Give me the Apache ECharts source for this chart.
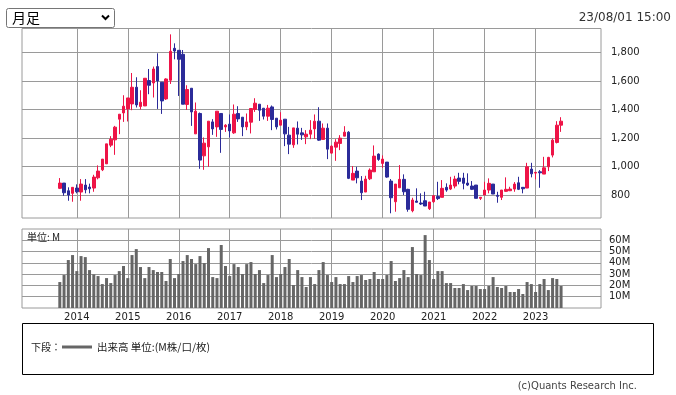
<!DOCTYPE html>
<html><head><meta charset="utf-8">
<script src="https://cdn.jsdelivr.net/npm/echarts@6/dist/echarts.min.js"></script>
<style>html,body{margin:0;padding:0;background:#fff;}#c{width:676px;height:395px;}</style>
</head><body><div id="c"></div>
<script>
// Monthly bars, Sep 2013 .. Jul 2023
const months = [
 '2013-09','2013-10','2013-11','2013-12',
 '2014-01','2014-02','2014-03','2014-04','2014-05','2014-06','2014-07','2014-08','2014-09','2014-10','2014-11','2014-12',
 '2015-01','2015-02','2015-03','2015-04','2015-05','2015-06','2015-07','2015-08','2015-09','2015-10','2015-11','2015-12',
 '2016-01','2016-02','2016-03','2016-04','2016-05','2016-06','2016-07','2016-08','2016-09','2016-10','2016-11','2016-12',
 '2017-01','2017-02','2017-03','2017-04','2017-05','2017-06','2017-07','2017-08','2017-09','2017-10','2017-11','2017-12',
 '2018-01','2018-02','2018-03','2018-04','2018-05','2018-06','2018-07','2018-08','2018-09','2018-10','2018-11','2018-12',
 '2019-01','2019-02','2019-03','2019-04','2019-05','2019-06','2019-07','2019-08','2019-09','2019-10','2019-11','2019-12',
 '2020-01','2020-02','2020-03','2020-04','2020-05','2020-06','2020-07','2020-08','2020-09','2020-10','2020-11','2020-12',
 '2021-01','2021-02','2021-03','2021-04','2021-05','2021-06','2021-07','2021-08','2021-09','2021-10','2021-11','2021-12',
 '2022-01','2022-02','2022-03','2022-04','2022-05','2022-06','2022-07','2022-08','2022-09','2022-10','2022-11','2022-12',
 '2023-01','2023-02','2023-03','2023-04','2023-05','2023-06','2023-07'
];
const openP = [
 847,884,830,812,
 849,821,870,856,849,921,977,1019,1150,1187,1332,1376,
 1404,1439,1556,1421,1425,1603,1586,1701,1591,1474,1605,1829,
 1815,1787,1435,1549,1229,1372,1075,1138,1313,1278,1372,1278,
 1297,1236,1372,1346,1278,1311,1400,1437,1409,1353,1418,1339,
 1290,1332,1220,1152,1269,1236,1208,1227,1264,1318,1190,1269,
 1094,1136,1162,1213,1241,905,968,898,821,914,963,1087,
 1022,1031,898,753,851,910,840,690,758,744,760,704,
 753,790,784,854,842,863,919,919,884,863,870,777,
 800,835,877,798,784,826,830,842,886,854,849,982,
 954,963,947,998,1080,1169,1290
];
const closeP = [
 884,816,800,854,
 823,877,837,844,926,968,1052,1159,1192,1276,1367,1423,
 1481,1556,1432,1451,1619,1570,1684,1600,1460,1614,1808,1810,
 1752,1437,1540,1383,1388,1045,1164,1318,1264,1388,1260,1290,
 1250,1367,1334,1278,1313,1407,1444,1395,1353,1409,1330,1278,
 1325,1229,1157,1271,1227,1222,1227,1255,1318,1185,1269,1122,
 1143,1171,1199,1241,917,952,921,816,912,975,1073,1050,
 1052,926,781,877,910,823,700,765,749,737,723,751,
 795,775,847,835,870,912,896,882,870,840,777,784,
 835,882,807,791,835,840,842,877,840,844,998,949,
 959,956,991,1064,1185,1290,1318
];
const lowP = [
 842,795,760,753,
 812,760,812,812,823,910,968,1019,1136,1082,1227,1313,
 1316,1395,1414,1400,1425,1507,1484,1404,1369,1467,1579,1752,
 1495,1437,1397,1285,1229,984,977,998,1222,1208,1096,1243,
 1204,1229,1313,1213,1255,1232,1383,1320,1330,1320,1255,1260,
 1290,1143,1087,1131,1155,1187,1157,1192,1194,1180,1190,1052,
 1089,1040,1115,1213,912,905,882,765,821,905,963,1040,
 991,921,672,683,851,800,683,679,749,730,723,695,
 745,765,784,823,835,847,875,840,863,835,777,765,
 800,812,807,746,765,823,828,823,835,812,849,924,
 910,851,947,968,1064,1162,1243
];
const highP = [
 919,884,854,854,
 875,912,912,880,942,1008,1052,1159,1213,1285,1367,1500,
 1481,1656,1626,1535,1619,1684,1701,1794,1591,1619,1927,1864,
 1815,1817,1570,1549,1449,1379,1204,1318,1332,1388,1372,1297,
 1365,1435,1423,1346,1372,1407,1479,1437,1409,1432,1428,1339,
 1381,1332,1278,1271,1316,1271,1255,1325,1365,1416,1302,1302,
 1148,1192,1220,1283,1248,1003,998,933,935,987,1148,1092,
 1078,1031,912,877,1010,945,844,781,847,812,823,751,
 800,893,905,882,928,935,956,956,952,898,870,784,
 893,917,877,823,835,924,858,891,928,854,1026,1026,
 961,975,1068,1068,1197,1318,1346
];
// volume, millions
const volume = [
 23.0,29.2,42.5,46.9,
 32.7,46.0,45.1,33.6,29.8,28.3,21.2,26.5,22.1,29.2,32.7,37.2,
 26.5,46.9,52.2,36.3,26.5,36.3,33.6,31.9,31.9,23.9,43.4,26.5,
 30.1,41.6,46.9,43.4,38.9,46.0,39.8,53.1,27.4,26.5,55.8,37.2,
 28.3,38.9,36.3,30.1,38.9,40.7,30.1,33.6,22.1,29.2,46.9,27.4,
 30.1,36.3,43.4,20.4,33.6,27.4,18.6,27.4,21.2,33.6,40.7,29.2,
 23.0,27.4,21.2,21.2,28.3,23.0,28.3,29.2,24.8,25.7,31.9,25.7,
 25.7,29.2,41.6,23.9,26.5,33.6,27.4,54.0,30.1,29.2,64.6,42.5,
 25.7,32.7,32.7,22.1,22.1,17.7,17.7,21.2,15.9,19.5,19.5,16.8,
 16.8,19.5,27.4,18.6,17.7,19.5,14.2,14.2,16.8,12.4,23.0,21.2,
 14.2,21.2,25.7,15.9,26.5,25.7,19.5
];
const yearLabels = ['2014','2015','2016','2017','2018','2019','2020','2021','2022','2023'];
const priceTicks = [800,1000,1200,1400,1600,1800];
const volumeTicks = [10,20,30,40,50,60];

const UP = '#ee1447', DOWN = '#2b2b99', GRID = '#9a9a9a';
const yearIdx = yearLabels.map(y => months.indexOf(y + '-01'));
const candleData = months.map((m, i) => [i, openP[i], closeP[i], lowP[i], highP[i]]);
const volData = months.map((m, i) => [i, volume[i]]);
const X_MIN = -8.9, X_MAX = 127.4;
const labelFont = {fontFamily: 'DejaVu Sans', fontSize: 10, color: '#222'};

const chart = echarts.init(document.getElementById('c'), null, {renderer: 'canvas'});
chart.setOption({
  animation: false,
  backgroundColor: '#fff',
  grid: [
    {left: 22, top: 28.5, width: 579, height: 189.5, show: true, borderColor: GRID, borderWidth: 1, backgroundColor: '#fff'},
    {left: 22, top: 229, width: 579, height: 79, show: true, borderColor: GRID, borderWidth: 1, backgroundColor: '#fff'}
  ],
  xAxis: [
    {type: 'value', gridIndex: 0, min: X_MIN, max: X_MAX,
     axisLine: {show: false}, axisTick: {show: false, customValues: yearIdx},
     axisLabel: {show: false, customValues: yearIdx},
     splitLine: {show: true, lineStyle: {color: GRID, width: 1}}},
    {type: 'value', gridIndex: 1, min: X_MIN, max: X_MAX,
     axisLine: {show: false}, axisTick: {show: false, customValues: yearIdx},
     axisLabel: Object.assign({show: true, customValues: yearIdx, margin: 4,
        formatter: v => months[Math.round(v)].slice(0, 4)}, labelFont),
     splitLine: {show: true, lineStyle: {color: GRID, width: 1}}}
  ],
  yAxis: [
    {type: 'value', gridIndex: 0, position: 'right', min: 639, max: 1968, scale: true,
     axisLine: {show: false},
     axisTick: {show: true, length: 4, customValues: priceTicks, lineStyle: {color: GRID}},
     axisLabel: Object.assign({customValues: priceTicks, margin: 10,
        formatter: v => v.toLocaleString('en-US')}, labelFont),
     splitLine: {show: true, lineStyle: {color: GRID, width: 1}}},
    {type: 'value', gridIndex: 1, position: 'right', min: 0, max: 70,
     axisLine: {show: false},
     axisTick: {show: true, length: 4, customValues: volumeTicks, lineStyle: {color: GRID}},
     axisLabel: Object.assign({customValues: volumeTicks, margin: 8,
        formatter: v => v + 'M'}, labelFont),
     splitLine: {show: true, lineStyle: {color: GRID, width: 1}}}
  ],
  series: [
    {type: 'candlestick', xAxisIndex: 0, yAxisIndex: 0, data: candleData,
     barWidth: 3,
     itemStyle: {color: UP, color0: DOWN, borderColor: UP, borderColor0: DOWN, borderWidth: 1}},
    {type: 'bar', xAxisIndex: 1, yAxisIndex: 1, data: volData, barWidth: 3,
     itemStyle: {color: '#666666'}}
  ],
  graphic: [
    {type: 'rect', shape: {x: 6.5, y: 8.5, width: 108, height: 19, r: 2},
     style: {fill: '#fff', stroke: '#767676', lineWidth: 1}},
    {type: 'text', x: 12, y: 18, style: {text: '月足', fontFamily: 'Noto Sans CJK JP', fontSize: 14,
     fill: '#000', verticalAlign: 'middle'}},
    {type: 'polyline', shape: {points: [[102, 15.5], [105.5, 19], [109, 15.5]]},
     style: {stroke: '#000', lineWidth: 2, fill: null}},
    {type: 'text', x: 671, y: 18, style: {text: '23/08/01 15:00', fontFamily: 'DejaVu Sans', fontSize: 12,
     fill: '#333', align: 'right', verticalAlign: 'middle'}},
    {type: 'text', x: 27, y: 237, z: 100, style: {text: '単位: M', fontFamily: 'Noto Sans CJK JP', fontSize: 10,
     fill: '#222', verticalAlign: 'middle'}},
    {type: 'rect', shape: {x: 22.5, y: 323.5, width: 631, height: 51},
     style: {fill: '#fff', stroke: '#000', lineWidth: 1}},
    {type: 'text', x: 31, y: 347, style: {text: '下段：', fontFamily: 'Noto Sans CJK JP', fontSize: 10,
     fill: '#222', verticalAlign: 'middle'}},
    {type: 'line', shape: {x1: 62, y1: 347, x2: 92, y2: 347}, style: {stroke: '#666', lineWidth: 3}},
    {type: 'text', x: 97, y: 347, style: {text: '出来高 単位:(M株/口/枚)', fontFamily: 'Noto Sans CJK JP', fontSize: 10.5,
     fill: '#222', verticalAlign: 'middle'}},
    {type: 'text', x: 637, y: 386, style: {text: '(c)Quants Research Inc.', fontFamily: 'DejaVu Sans', fontSize: 10,
     fill: '#444', align: 'right', verticalAlign: 'middle'}}
  ]
});
</script></body></html>
